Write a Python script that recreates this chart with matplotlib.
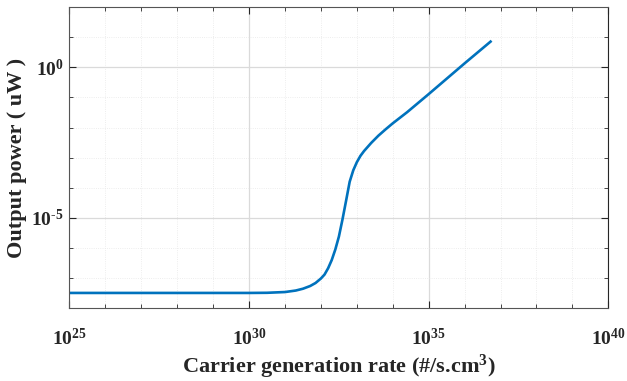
import numpy as np
import matplotlib
matplotlib.use("Agg")
import matplotlib.pyplot as plt
from matplotlib.ticker import LogLocator, NullFormatter, FuncFormatter

plt.rcParams['font.family'] = ['Liberation Serif', 'DejaVu Serif']
plt.rcParams['font.weight'] = 'bold'
plt.rcParams['mathtext.fontset'] = 'custom'
plt.rcParams['mathtext.rm'] = 'Liberation Serif:bold'
plt.rcParams['mathtext.bf'] = 'Liberation Serif:bold'
plt.rcParams['mathtext.it'] = 'Liberation Serif:bold:italic'
plt.rcParams['axes.unicode_minus'] = False

# log10 of carrier generation rate (#/s.cm^3)
log_rate = [25, 26, 27, 28, 29, 30, 30.5, 31.0, 31.3, 31.5, 31.7, 31.85, 32.0,
            32.1, 32.2, 32.3, 32.4, 32.5, 32.6, 32.7, 32.8, 32.9, 33.0, 33.1,
            33.2, 33.4, 33.6, 33.8, 34.0, 34.4, 35.0, 35.5, 36.0, 36.4, 36.75]
# log10 of output power (uW)
log_power = [-7.49, -7.49, -7.49, -7.49, -7.49, -7.49, -7.485, -7.46, -7.41, -7.35,
             -7.26, -7.16, -7.01, -6.88, -6.67, -6.40, -6.05, -5.62, -5.05, -4.43,
             -3.80, -3.42, -3.15, -2.94, -2.78, -2.51, -2.27, -2.06, -1.86, -1.49,
             -0.89, -0.38, 0.13, 0.53, 0.88]

x_tick_exps = [25, 30, 35, 40]
y_tick_exps = [-5, 0]

rate = 10.0 ** np.array(log_rate)
power = 10.0 ** np.array(log_power)


def sci(v, pos=None):
    e = int(round(np.log10(v)))
    if e < 0:
        return r'$\mathdefault{10^{\text{-}%d}}$' % (-e)
    return r'$\mathdefault{10^{%d}}$' % e


fig = plt.figure(figsize=(6.27, 3.81), dpi=100)
ax = fig.add_axes([0.1108, 0.1908, 0.9702 - 0.1108, 0.9816 - 0.1908])

ax.plot(rate, power, color='#0072BD', lw=1.9, solid_capstyle='butt')
ax.set_xscale('log')
ax.set_yscale('log')
ax.set_xlim(1e25, 1e40)
ax.set_ylim(1e-8, 1e2)

ax.set_xticks([10.0 ** e for e in x_tick_exps])
ax.set_yticks([10.0 ** e for e in y_tick_exps])
ax.xaxis.set_major_formatter(FuncFormatter(sci))
ax.yaxis.set_major_formatter(FuncFormatter(sci))
ax.xaxis.set_minor_locator(LogLocator(base=10, subs=(1.0,), numticks=40))
ax.yaxis.set_minor_locator(LogLocator(base=10, subs=(1.0,), numticks=40))
ax.xaxis.set_minor_formatter(NullFormatter())
ax.yaxis.set_minor_formatter(NullFormatter())

ax.tick_params(which='both', direction='in', top=True, right=True,
               color='#262626')
ax.tick_params(which='major', length=5, width=0.8, labelsize=14)
ax.tick_params(axis='x', which='major', pad=14)
ax.tick_params(axis='y', which='major', pad=4)
ax.tick_params(which='minor', length=3, width=0.6)

ax.grid(which='major', color='#dadada', lw=0.9, ls='-')
ax.grid(which='minor', color='#e8e8e8', lw=0.6, ls=':')
ax.set_axisbelow(True)

for s in ax.spines.values():
    s.set_color('#555555')
    s.set_linewidth(0.8)
ax.spines['right'].set_color('#262626')

ax.set_xlabel('Carrier generation rate (#/s.cm$^3$)', fontsize=16,
              fontweight='bold', labelpad=3, color='#262626')
ax.set_ylabel('Output power ( uW )', fontsize=16, fontweight='bold',
              color='#262626')
ax.yaxis.set_label_coords(-0.078, 0.5)
for lbl in ax.get_xticklabels() + ax.get_yticklabels():
    lbl.set_color('#262626')

fig.savefig('out.png', dpi=100)
